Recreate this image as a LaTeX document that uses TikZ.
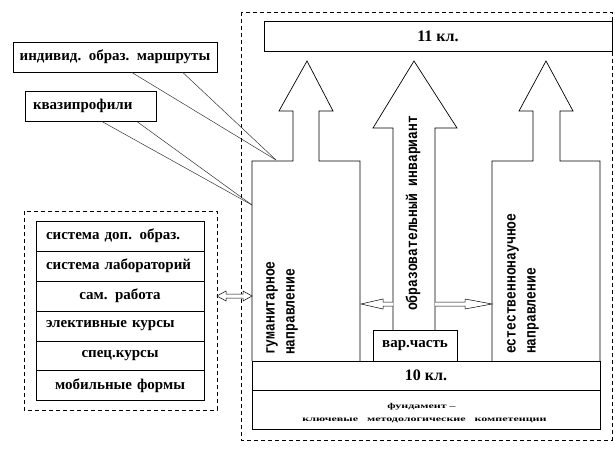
\documentclass[tikz,border=0pt]{standalone}
\usepackage{fontspec}
\setmainfont{Liberation Serif}
\newfontfamily\monof{Liberation Mono}
\tikzset{
  ln/.style={line width=0.7pt},
  box/.style={draw, ln, fill=white, inner sep=0pt, font=\bfseries\fontsize{15}{18}\selectfont},
  rowl/.style={box, minimum width=168pt, minimum height=30pt, text width=148pt, inner xsep=10pt, align=left},
  rowc/.style={box, minimum width=168pt, minimum height=30pt, text width=148pt, inner xsep=10pt, align=center},
  vtext/.style={rotate=90, anchor=west, inner sep=0pt, font=\monof\bfseries\fontsize{13}{20}\selectfont},
  smalltext/.style={inner sep=0pt, font=\bfseries\fontsize{12}{12}\selectfont},
  hollow/.style={draw, line width=0.5pt, fill=white},
  dashbox/.style={draw, line width=0.6pt, dash pattern=on 4pt off 3pt},
  callline/.style={draw, line width=0.5pt, black!80}
}
\begin{document}
\begin{tikzpicture}[x=1pt,y=-1pt]
\useasboundingbox (0,0) rectangle (615,449);
% dashed frames
\draw[dashbox] (241,12) rectangle (612,440);
\draw[dashbox] (24,211) rectangle (217,410);
% big arrows
\draw[ln, fill=white] (252,361) -- (252,161) -- (293,161) -- (293,111) -- (279,111) -- (307,61)
   -- (333,111) -- (319,111) -- (319,161) -- (360,161) -- (360,361);
\draw[ln, fill=white] (492,361) -- (492,161) -- (533,161) -- (533,111) -- (519,111) -- (546,61)
   -- (573,111) -- (560,111) -- (560,161) -- (600,161) -- (600,361);
\draw[ln, fill=white] (393,330) -- (393,128) -- (373,128) -- (414,61) -- (457,128) -- (435,128) -- (435,330);
% small hollow arrows
\draw[hollow] (393,302) -- (383,302) -- (383,299) -- (361,304) -- (383,309) -- (383,306) -- (393,306);
\draw[hollow] (435,302) -- (465,302) -- (465,299) -- (492,304) -- (465,309) -- (465,306) -- (435,306);
\draw[hollow] (217,296) -- (226,291) -- (226,294) -- (243,294) -- (243,291) -- (252,296)
   -- (243,301) -- (243,298) -- (226,298) -- (226,301) -- cycle;
% boxes
\node[box, minimum width=348pt, minimum height=30pt, font=\bfseries\fontsize{16}{18}\selectfont] (k11) at (438,36) {11 кл.};
\node[box, minimum width=348pt, minimum height=29pt, font=\bfseries\fontsize{16}{18}\selectfont] (k10) at (426,375.5) {10 кл.};
\node[box, minimum width=348pt, minimum height=39pt] (fund) at (426,409.5) {};
\node[smalltext] (fund1) at (421.5,407) {\scalebox{1}[0.62]{фундамент –}};
\node[smalltext] (fund2) at (424.5,420) {\scalebox{1}[0.62]{ключевые\ \ \ методологические\ \ \ компетенции}};
\node[box, minimum width=84pt, minimum height=31pt] (var) at (415,345.5) {вар.часть};
% vertical texts
\node[vtext] (hum1) at (272,355) {\scalebox{1}[1.2]{гуманитарное}};
\node[vtext] (hum2) at (292,355) {\scalebox{1}[1.2]{направление}};
\node[vtext] (inv) at (413,311) {\scalebox{1}[1.2]{образовательный инвариант}};
\node[vtext] (nat1) at (513,354) {\scalebox{1}[1.2]{естественнонаучное}};
\node[vtext] (nat2) at (533,354) {\scalebox{1}[1.2]{направление}};
% callouts
\node[box, minimum width=204pt, minimum height=30pt, text width=196pt, inner xsep=4pt, align=center] (c1) at (115,57) {индивид. образ. маршруты};
\node[box, minimum width=131pt, minimum height=30pt, text width=115pt, inner xsep=8pt, align=left] (c2) at (90.5,106) {квазипрофили};
\coordinate (t1) at (276,160);
\coordinate (t2) at (252,205);
\draw[callline] (c1.south west) ++(119,0) -- (t1);
\draw[callline] (c1.south west) ++(170,0) -- (t1);
\draw[callline] (c2.south west) ++(77,0) -- (t2);
\draw[callline] (c2.south west) ++(112,0) -- (t2);
% list
\node[rowl] (r1) at (120,236) {система доп. образ.};
\node[rowl] (r2) at (120,266) {система лабораторий};
\node[rowc] (r3) at (120,296) {сам. работа};
\node[rowl] (r4) at (120,326) {элективные курсы};
\node[rowc] (r5) at (120,356) {спец.курсы};
\node[rowc] (r6) at (120,385.5) {мобильные формы};
\end{tikzpicture}
\end{document}
